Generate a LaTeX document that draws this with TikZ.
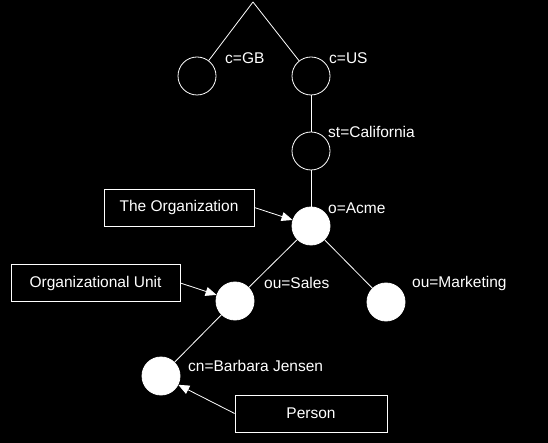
\documentclass[tikz,border=0pt]{standalone}
\usepackage{fontspec}
\setmainfont{Liberation Sans}
\usetikzlibrary{arrows.meta}

\begin{document}
\begin{tikzpicture}[x=1pt, y=-1pt,
	entry/.style={circle, draw=white, line width=0.8pt, minimum size=38pt, inner sep=0pt},
	full/.style={entry, fill=white},
	rdn/.style={anchor=west, text=white, inner sep=0pt, font=\fontsize{15.5}{18}\selectfont},
	tag/.style={draw=white, line width=0.8pt, text=white, minimum height=37pt, font=\fontsize{15.5}{18}\selectfont},
	link/.style={draw=white, line width=0.8pt},
	point/.style={link, -{Triangle[length=11pt, width=9pt]}}]
			%%%%% START %%%%%
			
			\fill[black] (0, 0) rectangle (548, 443);
			\useasboundingbox (0, 0) rectangle (548, 443);
			
			\coordinate (root) at (253, 2);
			
			\node[entry] (gb) at (197, 76) {};
			\node[entry] (us) at (311, 76) {};
			\node[entry] (cal) at (311, 151) {};
			\node[full] (acme) at (311, 226) {};
			\node[full] (sales) at (235, 301) {};
			\node[full] (mkt) at (386, 302) {};
			\node[full] (cn) at (161, 376) {};
			
			\node[rdn] (gblbl) at (225, 58) {c=GB};
			\node[rdn] (uslbl) at (329, 58) {c=US};
			\node[rdn] (callbl) at (328, 132) {st=California};
			\node[rdn] (acmelbl) at (328, 208) {o=Acme};
			\node[rdn] (saleslbl) at (264, 283) {ou=Sales};
			\node[rdn] (mktlbl) at (412, 283) {ou=Marketing};
			\node[rdn] (cnlbl) at (188, 366) {cn=Barbara Jensen};
			
			\draw[link] (root) -- (gb);
			\draw[link] (root) -- (us);
			\draw[link] (us) -- (cal);
			\draw[link] (cal) -- (acme);
			\draw[link] (acme) -- (sales);
			\draw[link] (acme) -- (mkt);
			\draw[link] (sales) -- (cn);
			
			\node[tag, minimum width=150pt] (org) at (179, 207.5) {The Organization};
			\node[tag, minimum width=169pt] (unit) at (95.5, 283) {Organizational Unit};
			\node[tag, minimum width=152pt] (person) at (311, 413.5) {Person};
			
			\draw[point] (org.east) -- (acme);
			\draw[point] (unit.east) -- (sales);
			\draw[point] (person.west) -- (cn);
			
			%%%%% END %%%%%
		\end{tikzpicture}
\end{document}
